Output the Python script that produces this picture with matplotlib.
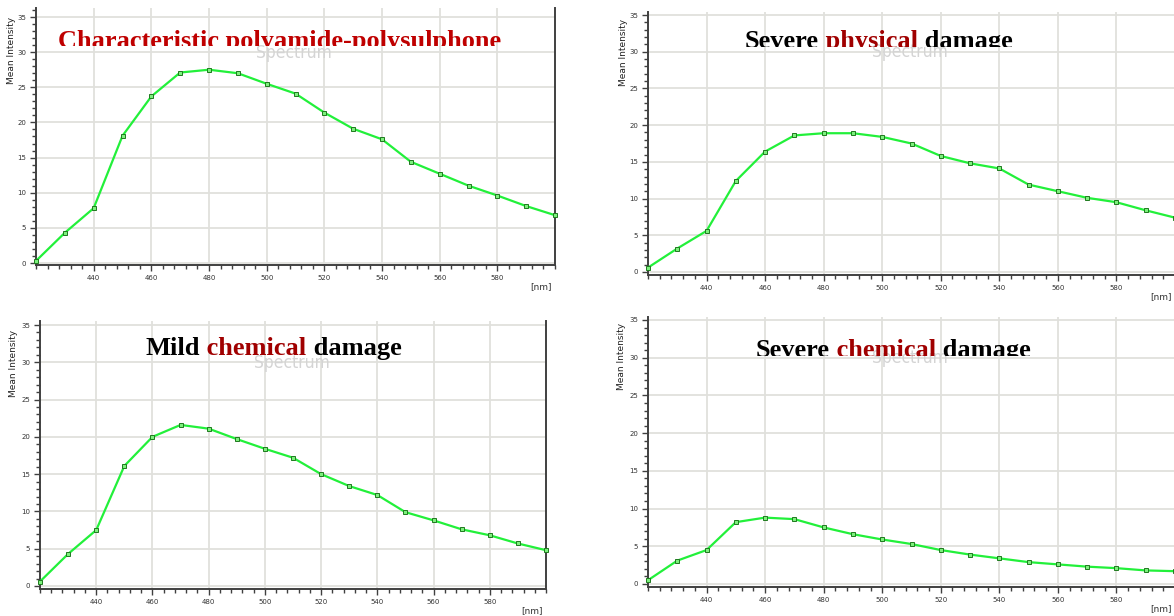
import matplotlib
matplotlib.use("Agg")
import matplotlib.pyplot as plt
from matplotlib.text import Annotation
from matplotlib.transforms import Bbox, TransformedBbox
from matplotlib.ticker import MultipleLocator, FixedLocator

W, H = 1174, 616

wavelength = [420, 430, 440, 450, 460, 470, 480, 490, 500, 510,
              520, 530, 540, 550, 560, 570, 580, 590, 600]

characteristic = [0.3, 4.3, 7.8, 18.1, 23.7, 27.1, 27.5, 27.0, 25.5, 24.1,
                  21.4, 19.1, 17.6, 14.4, 12.7, 11.0, 9.6, 8.1, 6.8]
severe_physical = [0.6, 3.2, 5.6, 12.4, 16.4, 18.6, 18.9, 18.9, 18.4, 17.5,
                   15.8, 14.8, 14.1, 11.9, 11.0, 10.1, 9.5, 8.4, 7.4]
mild_chemical = [0.6, 4.3, 7.5, 16.1, 20.0, 21.6, 21.1, 19.7, 18.4, 17.2,
                 15.0, 13.4, 12.2, 9.9, 8.8, 7.6, 6.8, 5.7, 4.8]
severe_chemical = [0.5, 3.1, 4.5, 8.2, 8.8, 8.6, 7.5, 6.6, 5.9, 5.3,
                   4.5, 3.9, 3.4, 2.9, 2.6, 2.3, 2.1, 1.8, 1.7]

x_major = [440, 460, 480, 500, 520, 540, 560, 580]
y_major = [0, 5, 10, 15, 20, 25, 30, 35]

titles = [
    [("Characteristic polyamide-polysulphone", "#bf0000")],
    [("Severe", "black"), (" physical", "#a00000"), (" damage", "black")],
    [("Mild", "black"), (" chemical", "#a00000"), (" damage", "black")],
    [("Severe", "black"), (" chemical", "#a00000"), (" damage", "black")],
]
series = [characteristic, severe_physical, mild_chemical, severe_chemical]

# layout in pixels: left, right, y(0), y(35), top, bottom
boxes = [
    (36, 555, 263, 17, 8, 265),
    (648, 1175, 272, 15, 12, 275),
    (40, 546, 586, 325, 321, 589),
    (648, 1175, 584, 320, 317, 587),
]
# title: left x, baseline y, clip y (None = no clip)
title_pos = [(58, 48, 45.5), (745, 48, 46.5), (146, 355, None), (756, 357, 355.5)]
spectrum_pos = [(294, 53), (910, 52), (292, 363), (910, 358)]
ylabel_pos = [(12, 50), (623, 52), (14, 363), (621, 356)]

fig = plt.figure(figsize=(W / 100, H / 100), dpi=100)
fig.patch.set_facecolor("white")


def fx(x):
    return x / W


def fy(y):
    return 1 - y / H


line_color = "#22f03a"
spine_color = "#404040"

for i in range(4):
    l, r, y0, y35, top, bot = boxes[i]
    ax = fig.add_axes([fx(l), fy(bot), (r - l) / W, (bot - top) / H])
    ppu = (y0 - y35) / 35.0
    ymax = 35 + (y35 - top) / ppu
    ymin = -(bot - y0) / ppu
    ax.set_xlim(420, 600)
    ax.set_ylim(ymin, ymax)
    ax.plot(wavelength, series[i], color=line_color, lw=1.6, marker="s",
            markersize=3.2, markerfacecolor="#7cf07c", markeredgecolor="#1f7a1f",
            markeredgewidth=0.7, zorder=3, clip_on=False)
    ax.xaxis.set_major_locator(FixedLocator(x_major))
    ax.xaxis.set_minor_locator(MultipleLocator(4))
    ax.yaxis.set_major_locator(FixedLocator(y_major))
    ax.yaxis.set_minor_locator(MultipleLocator(1))
    ax.grid(True, which="major", color="#e0e0dc", lw=1.3, zorder=0)
    ax.set_axisbelow(True)
    ax.spines["top"].set_visible(False)
    for s in ["left", "bottom", "right"]:
        ax.spines[s].set_color(spine_color)
        ax.spines[s].set_linewidth(1.4)
    ax.tick_params(which="major", direction="out", length=4, width=1.0,
                   color=spine_color, labelsize=5, pad=3, labelcolor="#333333")
    ax.tick_params(which="minor", direction="out", length=3, width=1.0,
                   color=spine_color)
    ax.set_facecolor("white")

    # [nm] label
    fig.text(fx(r - 3), fy(bot + 22), "[nm]", ha="right", va="center",
             fontsize=6.5, color="#333333")
    # y label
    yx, yy = ylabel_pos[i]
    fig.text(fx(yx), fy(yy), "Mean Intensity", rotation=90, ha="center",
             va="center", fontsize=6.5, color="#222222")
    # watermark
    sx, sy = spectrum_pos[i]
    fig.text(fx(sx), fy(sy), "Spectrum", ha="center", va="center",
             fontsize=12.5, color="#d4d4d4", zorder=2.5,
             fontstretch="condensed")

    # title
    tx, ty, clipy = title_pos[i]
    clip = None
    if clipy is not None:
        clip = TransformedBbox(Bbox([[0, fy(clipy)], [1, 1]]), fig.transFigure)
    prev = None
    for text, col in titles[i]:
        if prev is None:
            t = fig.text(fx(tx), fy(ty), text, ha="left", va="baseline",
                         fontsize=19, fontweight="bold",
                         family="Liberation Serif", color=col, zorder=5)
        else:
            t = Annotation(text, xy=(1, 0), xycoords=prev, ha="left",
                           va="bottom", fontsize=19, fontweight="bold",
                           family="Liberation Serif", color=col, zorder=5)
            fig.add_artist(t)
        if clip is not None:
            t.set_clip_box(clip)
            t.set_clip_on(True)
        prev = t

fig.savefig("out.png", dpi=100)
